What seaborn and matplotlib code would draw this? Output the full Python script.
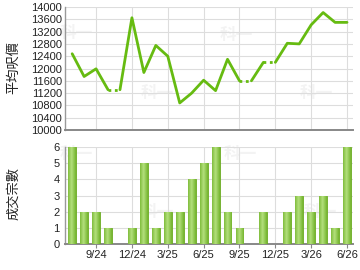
import numpy as np
import pandas as pd
import matplotlib
matplotlib.use("Agg")
import matplotlib.pyplot as plt
import seaborn as sns
from matplotlib.colors import LinearSegmentedColormap

# ---- data ----
months = ["7/24", "8/24", "9/24", "10/24", "11/24", "12/24",
          "1/25", "2/25", "3/25", "4/25", "5/25", "6/25",
          "7/25", "8/25", "9/25", "10/25", "11/25", "12/25",
          "1/26", "2/26", "3/26", "4/26", "5/26", "6/26"]
avg_price = [12480, 11740, 11990, 11310, None, 13650,
             11870, 12750, 12400, 10880, 11200, 11620,
             11280, 12300, 11600, None, 12200, None,
             12820, 12800, 13420, 13820, 13500, 13500]
deals = [6, 2, 2, 1, 0, 1,
         5, 1, 2, 2, 4, 5,
         6, 2, 1, 0, 2, 0,
         2, 3, 2, 3, 1, 6]
xtick_labels = ["9/24", "12/24", "3/25", "6/25", "9/25", "12/25", "3/26", "6/26"]
price_ticks = list(range(10000, 14001, 400))
deal_ticks = [0, 1, 2, 3, 4, 5, 6]

sns.set_theme(style="white")
plt.rcParams['font.family'] = ['Liberation Sans', 'Noto Sans CJK TC', 'DejaVu Sans']

LINE = "#66bb11"
GRID = "#dddddd"
SPINE = "#999999"

fig = plt.figure(figsize=(3.6, 2.7), dpi=100)
ax1 = fig.add_axes([65/360, 1-130/270, 288/360, 123/270])
ax2 = fig.add_axes([65/360, 1-244/270, 288/360, 97/270])

idx = np.arange(len(months))
tick_pos = [months.index(m) for m in xtick_labels]

# ---- price line ----
s = pd.Series(avg_price, dtype=float)
filled = s.ffill()
missing = s.isna().values
rows_solid, rows_dot = [], []
unit = 0
for i in range(len(months)):
    if i > 0 and missing[i]:
        rows_dot.append((i - 1, filled[i - 1], i))
        rows_dot.append((i, filled[i], i))
        unit += 1
    rows_solid.append((i, filled[i], unit))
df_solid = pd.DataFrame(rows_solid, columns=["x", "y", "u"])
df_dot = pd.DataFrame(rows_dot, columns=["x", "y", "u"])
sns.lineplot(data=df_solid, x="x", y="y", units="u", estimator=None,
             color=LINE, lw=2, ax=ax1, zorder=3)
sns.lineplot(data=df_dot, x="x", y="y", units="u", estimator=None,
             color=LINE, lw=2, ax=ax1, zorder=3, linestyle=(0, (1, 1.3)))

# ---- deals bars ----
df_bar = pd.DataFrame({"x": idx, "n": deals})
sns.barplot(data=df_bar, x="x", y="n", native_scale=True, width=0.66,
            color="#8cc63f", edgecolor="#6aab22", linewidth=0.6,
            saturation=1, ax=ax2, zorder=3)
grad = np.linspace(0, 1, 64)
shape = np.clip(1 - np.abs(grad - 0.45) * 1.6, 0, 1)
cmap = LinearSegmentedColormap.from_list("g", ["#6cb024", "#b3df7c"])
for p in list(ax2.patches):
    h = p.get_height()
    if h <= 0:
        continue
    x0 = p.get_x(); w = p.get_width()
    im = ax2.imshow(shape[None, :], cmap=cmap, aspect="auto",
                    extent=[x0, x0 + w, 0, h], zorder=3.5, vmin=0, vmax=1)
    im.set_clip_path(p)

for ax in (ax1, ax2):
    ax.set_xlim(-0.6, 23.5)
    ax.set_xticks(tick_pos)
    ax.grid(True, color=GRID, lw=0.8, zorder=0)
    ax.set_axisbelow(True)
    for sp in ("top", "right"):
        ax.spines[sp].set_visible(False)
    ax.spines["left"].set_color(SPINE)
    ax.spines["left"].set_linewidth(1.0)
    ax.spines["bottom"].set_color("#888888")
    ax.spines["bottom"].set_linewidth(1.4)
    ax.set_xlabel("")
    ax.set_ylabel("")

ax1.set_ylim(10000, 14000)
ax1.set_yticks(price_ticks)
ax1.set_yticklabels([str(v) for v in price_ticks])
ax1.tick_params(axis="y", length=0, pad=2, labelsize=8, labelcolor="#222222")
ax1.tick_params(axis="x", length=0, labelbottom=False)

ax2.set_ylim(0, 6)
ax2.set_yticks(deal_ticks)
ax2.tick_params(axis="y", length=0, pad=4, labelsize=8, labelcolor="#222222")
ax2.set_xticklabels(xtick_labels)
ax2.tick_params(axis="x", length=3, width=0.8, color="#888888", pad=1,
                labelsize=8, labelcolor="#222222", bottom=True)

fig.text(14/360, 1-68/270, "平均呎價", rotation=90, ha="center", va="center",
         fontsize=9.5, family=['Noto Sans CJK TC', 'DejaVu Sans'], color="#222222")
fig.text(14/360, 1-193/270, "成交宗數", rotation=90, ha="center", va="center",
         fontsize=9.5, family=['Noto Sans CJK TC', 'DejaVu Sans'], color="#222222")

# faint watermarks, behind the grid and marks
wm = dict(fontsize=12, fontweight="bold", color="#f3f3f3", ha="center", va="center",
          family=['Noto Sans CJK TC', 'DejaVu Sans'], zorder=0.1,
          transform=fig.transFigure)
for (x, y) in [(76, 33), (157, 93), (236, 35), (316, 93)]:
    ax1.text(x/360, 1-y/270, "科一", **wm)
for (x, y) in [(76, 154), (157, 212), (240, 154), (320, 212)]:
    ax2.text(x/360, 1-y/270, "科一", **wm)

fig.savefig("out.png", dpi=100)
